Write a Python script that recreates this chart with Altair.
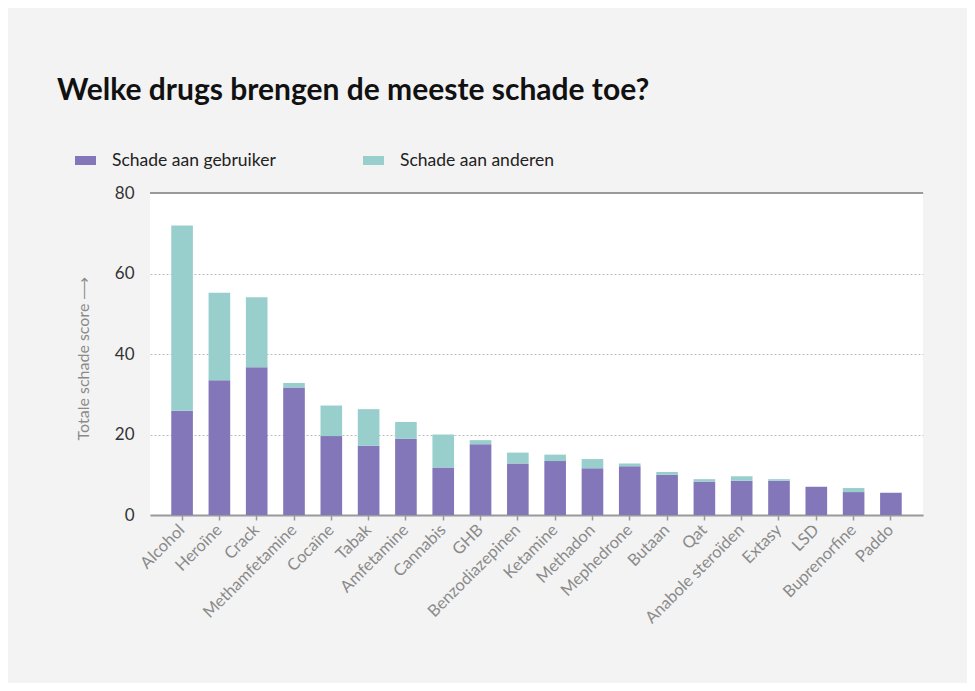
import altair as alt
import pandas as pd

drugs = ["Alcohol", "Heroïne", "Crack", "Methamfetamine", "Cocaïne", "Tabak",
         "Amfetamine", "Cannabis", "GHB", "Benzodiazepinen", "Ketamine", "Methadon",
         "Mephedrone", "Butaan", "Qat", "Anabole steroïden", "Extasy", "LSD",
         "Buprenorfine", "Paddo"]
gebruiker = [25.9, 33.5, 36.7, 31.7, 19.6, 17.2, 18.9, 11.8, 17.6, 12.8, 13.4, 11.6,
             12.1, 10.0, 8.3, 8.5, 8.5, 7.0, 5.7, 5.5]
anderen = [46.0, 21.7, 17.4, 1.1, 7.6, 9.1, 4.2, 8.2, 1.0, 2.7, 1.6, 2.3,
           0.7, 0.7, 0.6, 1.1, 0.4, 0.0, 1.0, 0.0]
series = ["Schade aan gebruiker", "Schade aan anderen"]
colors = ["#8377ba", "#98cfcd"]
y_ticks = [0, 20, 40, 60, 80]

rows = []
for d, g, a in zip(drugs, gebruiker, anderen):
    rows.append({"drug": d, "serie": series[0], "waarde": g, "volg": 0})
    rows.append({"drug": d, "serie": series[1], "waarde": a, "volg": 1})
df = pd.DataFrame(rows)

FONT = "Lato"

bars = alt.Chart(df).mark_bar().encode(
    x=alt.X("drug:N", sort=drugs,
            scale=alt.Scale(paddingInner=0.42, paddingOuter=0.57),
            axis=alt.Axis(title=None, labelAngle=-45, labelAlign="right",
                          labelBaseline="middle",
                          labelFont=FONT, labelFontSize=16.5, labelColor="#8a8a8a",
                          labelPadding=7, domainColor="#9a9a9a", domainWidth=2,
                          tickColor="#9a9a9a", tickSize=5, tickWidth=1.5,
                          grid=False)),
    y=alt.Y("waarde:Q", stack="zero",
            scale=alt.Scale(domain=[0, 80], nice=False),
            axis=alt.Axis(values=y_ticks, title="Totale schade score    ⟶",
                          titleFont=FONT, titleFontSize=16, titleFontWeight="normal",
                          titleColor="#8a8a8a", titleX=-67, titleY=165,
                          titleAlign="center", titleBaseline="middle", titleAngle=-90,
                          labelFont=FONT, labelFontSize=17, labelColor="#333333",
                          labelPadding=16, domain=False, ticks=False,
                          grid=True, gridColor="#bdbdbd", gridDash=[2, 2],
                          gridWidth=1)),
    color=alt.Color("serie:N", scale=alt.Scale(domain=series, range=colors),
                    legend=alt.Legend(title=None, orient="none", legendX=-75,
                                      legendY=-43, direction="horizontal",
                                      symbolType="M-1,-0.43H1V0.43H-1Z",
                                      symbolSize=441, symbolStrokeWidth=0,
                                      labelFont=FONT, labelFontSize=17.5,
                                      labelColor="#222222", labelOffset=16,
                                      labelLimit=300, columnPadding=87)),
    order=alt.Order("volg:Q"),
)

top_line = alt.Chart(pd.DataFrame({"y": [y_ticks[-1]]})).mark_rule(
    color="#9a9a9a", strokeWidth=2).encode(y="y:Q")

chart = alt.layer(bars, top_line).properties(
    width=773, height=322,
    autosize=alt.AutoSizeParams(type="none"),
    padding={"left": 142, "top": 185, "right": 44, "bottom": 168},
    background="#f3f3f3",
    title=alt.TitleParams("Welke drugs brengen de meeste schade toe?",
                          anchor="start", frame="group", font=FONT, fontSize=30,
                          fontWeight="bold", color="#111111", dx=-93, dy=-40),
).configure_view(fill="white", stroke=None)

chart.save("out.html", embed_options={"renderer": "svg", "actions": False})
